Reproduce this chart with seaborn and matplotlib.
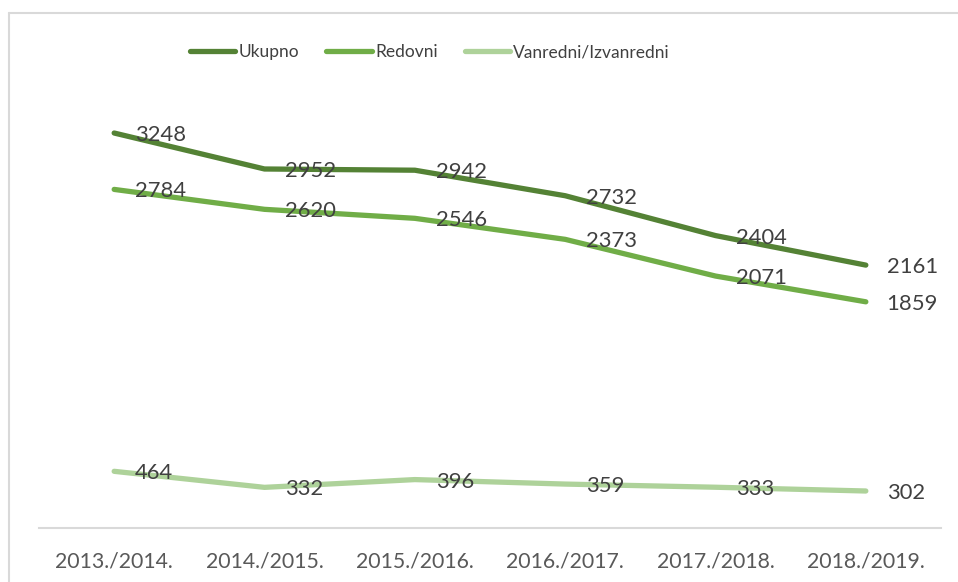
import matplotlib
matplotlib.use("Agg")
import matplotlib.pyplot as plt
import seaborn as sns
import pandas as pd
from matplotlib.lines import Line2D

years = ["2013./2014.", "2014./2015.", "2015./2016.", "2016./2017.", "2017./2018.", "2018./2019."]
series_names = ["Ukupno", "Redovni", "Vanredni/Izvanredni"]
ukupno = [3248, 2952, 2942, 2732, 2404, 2161]
redovni = [2784, 2620, 2546, 2373, 2071, 1859]
vanredni = [464, 332, 396, 359, 333, 302]
colors = ["#548235", "#70AD47", "#AED29A"]

sns.set_theme(style="white")
plt.rcParams["font.family"] = ["Lato", "DejaVu Sans"]

rows = []
for name, vals in zip(series_names, [ukupno, redovni, vanredni]):
    for i, (y, v) in enumerate(zip(years, vals)):
        rows.append({"Godina": y, "idx": i, "Serija": name, "Broj": v})
df = pd.DataFrame(rows)

W, H = 958, 582
fig = plt.figure(figsize=(W / 100, H / 100), dpi=100)
ax = fig.add_axes([39 / W, 1 - 527.7 / H, (941 - 39) / W, 425.3 / H])

sns.lineplot(data=df, x="idx", y="Broj", hue="Serija", hue_order=series_names,
             palette=colors, linewidth=3.8, ax=ax, legend=False)
for ln in ax.get_lines():
    ln.set_solid_capstyle("round")
    ln.set_solid_joinstyle("round")

ax.set_xlim(-0.5, 5.5)
ax.set_ylim(0, 3500)
ax.set_xticks(range(len(years)))
ax.set_xticklabels(years, fontsize=15.3, color="#595959")
ax.set_yticks([])
ax.set_xlabel("")
ax.set_ylabel("")
ax.tick_params(axis="x", length=0, pad=17)
for s in ["top", "right", "left"]:
    ax.spines[s].set_visible(False)
ax.spines["bottom"].set_color("#D9D9D9")
ax.spines["bottom"].set_linewidth(1.5)

for vals in [ukupno, redovni, vanredni]:
    for i, v in enumerate(vals):
        ax.annotate(str(v), (i, v), xytext=(15, -1.5), textcoords="offset points",
                    ha="left", va="center", fontsize=15.8, color="#404040")

handles = [Line2D([0], [0], color=c, linewidth=3.8, solid_capstyle="round") for c in colors]
fig.legend(handles, series_names, loc="center", bbox_to_anchor=(430 / W, 1 - 52 / H),
           ncol=3, frameon=False, fontsize=12.5, handlelength=2.6, handletextpad=0.2,
           columnspacing=1.55, labelcolor="#404040")

# outer border
fig.add_artist(Line2D([9 / W, 9 / W], [0, 1 - 13 / H], transform=fig.transFigure,
                      color="#D9D9D9", linewidth=1.5))
fig.add_artist(Line2D([9 / W, 1], [1 - 13 / H, 1 - 13 / H], transform=fig.transFigure,
                      color="#D9D9D9", linewidth=1.5))

fig.savefig("out.png", dpi=100)
